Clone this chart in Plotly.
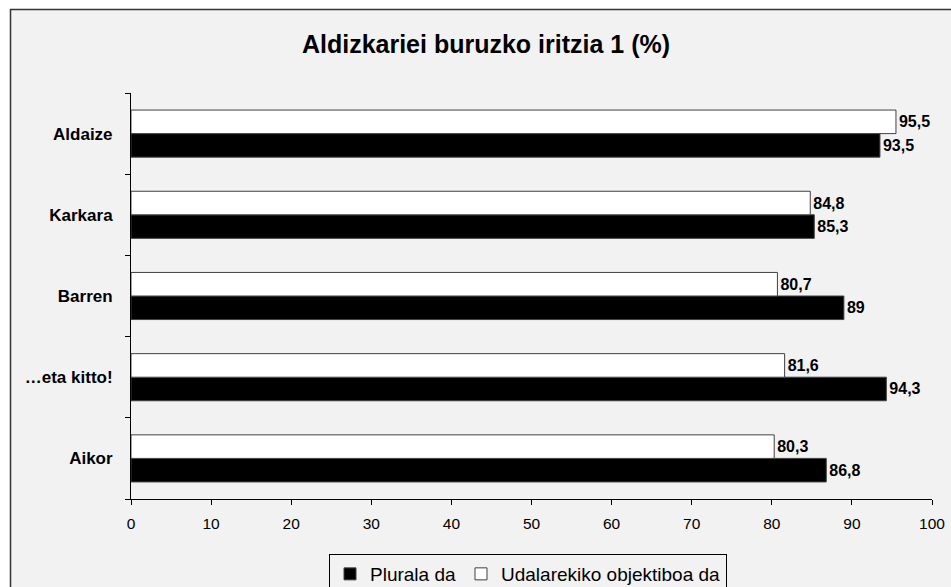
import plotly.graph_objects as go

categories = ["Aikor", "…eta kitto!", "Barren", "Karkara", "Aldaize"]
plurala = [86.8, 94.3, 89, 85.3, 93.5]
udalarekiko = [80.3, 81.6, 80.7, 84.8, 95.5]
x_ticks = [0, 10, 20, 30, 40, 50, 60, 70, 80, 90, 100]

def fmt(v):
    return ("%g" % v).replace(".", ",")

FONT = "Liberation Sans, Arial, sans-serif"
W, H = 951, 587
L = 131
R = 951 - 932
T = 93
B = 587 - 499
pw, ph = W - L - R, H - T - B

fig = go.Figure()
fig.add_trace(go.Bar(
    y=categories, x=plurala, orientation="h", name="Plurala da",
    marker=dict(color="black", line=dict(color="#404040", width=1)),
    text=[fmt(v) for v in plurala], textposition="outside",
    textfont=dict(family=FONT, size=16, color="black", weight="bold"),
    cliponaxis=False,
))
fig.add_trace(go.Bar(
    y=categories, x=udalarekiko, orientation="h", name="Udalarekiko objektiboa da",
    marker=dict(color="white", line=dict(color="#404040", width=1)),
    text=[fmt(v) for v in udalarekiko], textposition="outside",
    textfont=dict(family=FONT, size=16, color="black", weight="bold"),
    cliponaxis=False,
))

# chart area frame (page coords 10,9 -> beyond right/bottom)
fig.add_shape(
    type="rect", xref="paper", yref="paper", layer="below",
    x0=(10.5 - L) / pw, x1=(W + 20 - L) / pw,
    y0=(-(B + 20)) / ph, y1=(H - 9.5 - B) / ph,
    fillcolor="#f2f2f2", line=dict(color="#333333", width=1.5),
)

fig.update_layout(
    width=W, height=H,
    margin=dict(l=L, r=R, t=T, b=B, pad=0, autoexpand=False),
    paper_bgcolor="white", plot_bgcolor="rgba(0,0,0,0)",
    barmode="group", bargap=0.42, bargroupgap=0,
    font=dict(family=FONT, size=14, color="black"),
    title=dict(text="<b>Aldizkariei buruzko iritzia 1 (%)</b>",
               x=486 / W, xanchor="center", y=1 - 44 / H, yanchor="middle",
               font=dict(family=FONT, size=25, color="black")),
    xaxis=dict(range=[0, 100], tickvals=x_ticks, ticks="outside", ticklen=5,
               tickcolor="black", showline=True, linecolor="black", linewidth=1,
               showgrid=False, zeroline=False, ticklabelstandoff=5,
               tickfont=dict(family=FONT, size=15.5, color="black")),
    yaxis=dict(ticks="outside", tickson="boundaries", ticklen=5, tickcolor="black",
               showline=True, linecolor="black", linewidth=1, showgrid=False,
               ticklabelstandoff=14,
               tickfont=dict(family=FONT, size=17, color="black", weight="bold")),
    legend=dict(orientation="h", x=(528 - L) / pw, xanchor="center",
                y=-(554 - (H - B)) / ph, yanchor="top",
                bordercolor="black", borderwidth=1, bgcolor="#f2f2f2",
                font=dict(family=FONT, size=19, color="black"),
                itemwidth=30, traceorder="normal"),
    showlegend=True,
)

fig.write_html(
    "out.html",
    config={"displayModeBar": False},
    post_script="document.documentElement.style.overflow='hidden';"
                "document.body.style.overflow='hidden';"
                "document.body.style.margin='0';",
)
